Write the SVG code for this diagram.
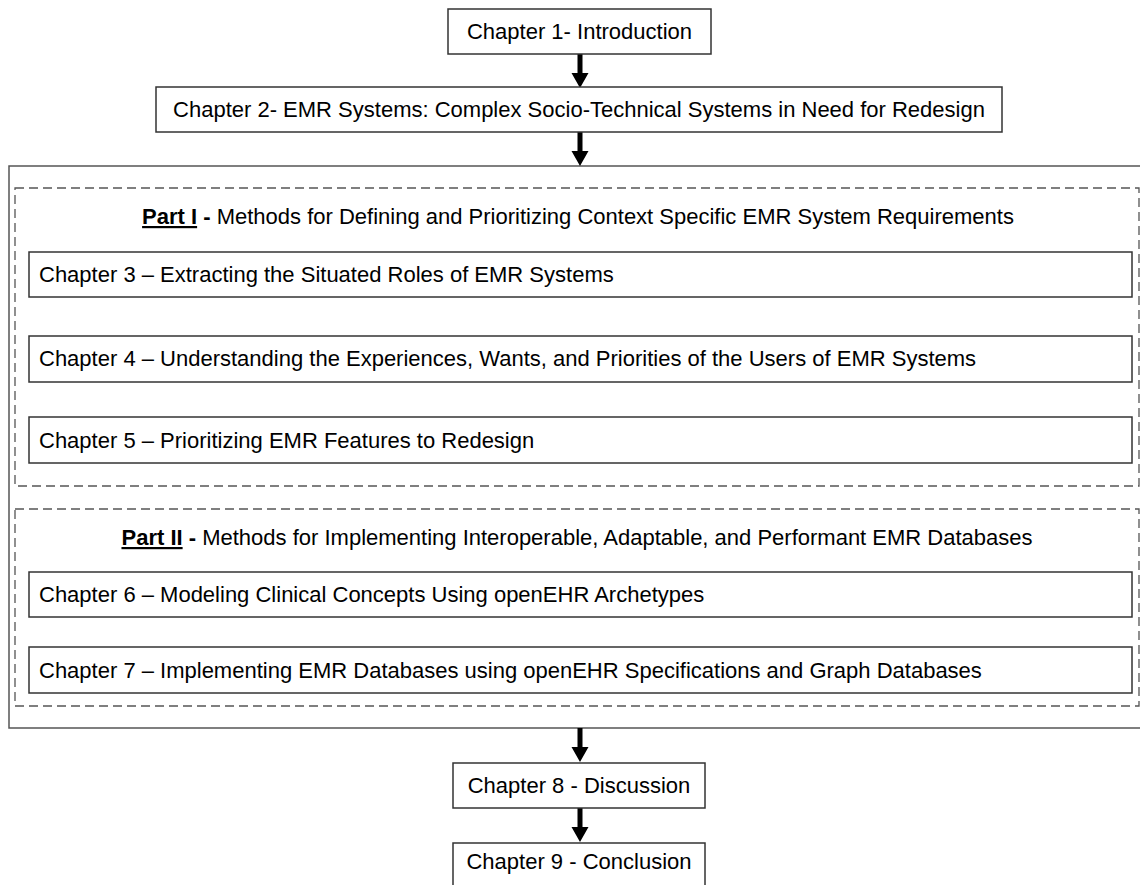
<svg xmlns="http://www.w3.org/2000/svg" width="1140" height="885" viewBox="0 0 1140 885">
  <style>
    .box { fill: #ffffff; stroke: #333333; stroke-width: 1.5; }
    .frame { fill: #ffffff; stroke: #555555; stroke-width: 1.5; }
    .part { fill: none; stroke: #555555; stroke-width: 1.3; stroke-dasharray: 9 5; }
    .label { font-family: "Liberation Sans", Arial, sans-serif; font-size: 22px; fill: #000000; }
    .mid { text-anchor: middle; }
    .head { font-weight: bold; text-decoration: underline; }
    .b { font-weight: bold; }
    .arrow { fill: #000000; }
  </style>
  <defs>
    <!-- thick down arrow, 34px long, origin at the top of the shaft -->
    <path id="down" class="arrow" d="M -2.5 0 H 2.5 V 19 H 8.5 L 0 34 L -8.5 19 H -2.5 Z"/>
  </defs>

  <!-- outer frame holding both parts -->
  <rect class="frame" x="9" y="166" width="1140" height="562"/>

  <g id="connectors">
    <use href="#down" x="580" y="54"/>
    <use href="#down" x="580" y="132"/>
    <use href="#down" x="580" y="728"/>
    <use href="#down" x="580" y="808"/>
  </g>

  <g id="ch1">
    <rect class="box" x="448" y="9" width="263" height="45"/>
    <text class="label mid" x="579.5" y="39">Chapter 1- Introduction</text>
  </g>

  <g id="ch2">
    <rect class="box" x="156" y="87" width="846" height="45"/>
    <text class="label mid" x="579" y="117">Chapter 2- EMR Systems: Complex Socio-Technical Systems in Need for Redesign</text>
  </g>

  <g id="part1">
    <rect class="part" x="15" y="188" width="1124" height="298"/>
    <text class="label mid" x="578" y="224"><tspan class="head">Part I</tspan><tspan class="b"> -</tspan> Methods for Defining and Prioritizing Context Specific EMR System Requirements</text>
  </g>

  <g id="ch3">
    <rect class="box" x="29" y="252" width="1103" height="45"/>
    <text class="label" x="39" y="282">Chapter 3 – Extracting the Situated Roles of EMR Systems</text>
  </g>

  <g id="ch4">
    <rect class="box" x="29" y="336" width="1103" height="46"/>
    <text class="label" x="39" y="366">Chapter 4 – Understanding the Experiences, Wants, and Priorities of the Users of EMR Systems</text>
  </g>

  <g id="ch5">
    <rect class="box" x="29" y="417" width="1103" height="46"/>
    <text class="label" x="39" y="448">Chapter 5 – Prioritizing EMR Features to Redesign</text>
  </g>

  <g id="part2">
    <rect class="part" x="15" y="509" width="1124" height="197"/>
    <text class="label mid" x="577" y="545"><tspan class="head">Part II</tspan><tspan class="b"> -</tspan> Methods for Implementing Interoperable, Adaptable, and Performant EMR Databases</text>
  </g>

  <g id="ch6">
    <rect class="box" x="29" y="572" width="1103" height="45"/>
    <text class="label" x="39" y="602">Chapter 6 – Modeling Clinical Concepts Using openEHR Archetypes</text>
  </g>

  <g id="ch7">
    <rect class="box" x="29" y="647" width="1103" height="46"/>
    <text class="label" x="39" y="678">Chapter 7 – Implementing EMR Databases using openEHR Specifications and Graph Databases</text>
  </g>

  <g id="ch8">
    <rect class="box" x="453" y="763" width="252" height="45"/>
    <text class="label mid" x="579" y="793">Chapter 8 - Discussion</text>
  </g>

  <g id="ch9">
    <rect class="box" x="453" y="843" width="252" height="45"/>
    <text class="label mid" x="579" y="869">Chapter 9 - Conclusion</text>
  </g>
</svg>
